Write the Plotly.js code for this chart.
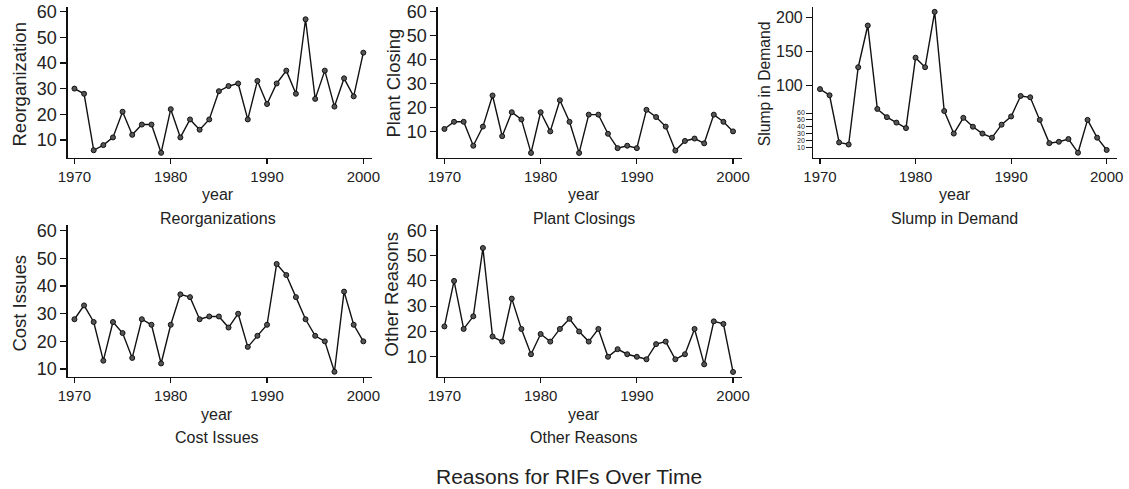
<!DOCTYPE html>
<html>
<head>
<meta charset="utf-8">
<script src="https://cdn.plot.ly/plotly-3.0.1.min.js"></script>
<style>html,body{margin:0;padding:0;background:#fff;}#chart{width:1129px;height:489px;}</style>
</head>
<body>
<div id="chart"></div>
<script>
// ---- data ----
const years = [1970,1971,1972,1973,1974,1975,1976,1977,1978,1979,1980,1981,1982,1983,1984,1985,1986,1987,1988,1989,1990,1991,1992,1993,1994,1995,1996,1997,1998,1999,2000];
const reorganization = [30,28,6,8,11,21,12,16,16,5,22,11,18,14,18,29,31,32,18,33,24,32,37,28,57,26,37,23,34,27,44];
const plantClosing = [11,14,14,4,12,25,8,18,15,1,18,10,23,14,1,17,17,9,3,4,3,19,16,12,2,6,7,5,17,14,10];
const slumpInDemand = [95,86,17,14,127,188,66,54,46,38,141,127,208,63,30,53,40,30,24,43,55,85,83,50,16,18,22,2,50,24,6];
const costIssues = [28,33,27,13,27,23,14,28,26,12,26,37,36,28,29,29,25,30,18,22,26,48,44,36,28,22,20,9,38,26,20];
const otherReasons = [22,40,21,26,53,18,16,33,21,11,19,16,21,25,20,16,21,10,13,11,10,9,15,16,9,11,21,7,24,23,4];

const xTicks = [1970,1980,1990,2000];
const yTicks = [10,20,30,40,50,60];
const slumpBigTicks = [100,150,200];
const slumpSmallTicks = [10,20,30,40,50,60];

const yTitles = ["Reorganization","Plant Closing","Slump in Demand","Cost Issues","Other Reasons"];
const subTitles = ["Reorganizations","Plant Closings","Slump in Demand","Cost Issues","Other Reasons"];
const xTitle = "year";
const mainTitle = "Reasons for RIFs Over Time";

// ---- layout geometry (pixels) ----
const W = 1129, H = 489;
const px = v => v / W;
const py = v => 1 - v / H;
const FONT = '"Liberation Sans", Arial, Helvetica, sans-serif';
const TXT = '#222';

const series = [reorganization, plantClosing, slumpInDemand, costIssues, otherReasons];
const panels = [
  {x0:67.7, x1:372,    y0:6.7, y1:157.7, xr:[1969.3,2000.9],  yr:[3.1,61.9],   ytx:19.3,  yty:84.2,  cx:217.5, ytf:18.5, tkf:18},
  {x0:437.7,x1:741.7,  y0:6.7, y1:157.7, xr:[1969.3,2000.9],  yr:[-1.0,62.1],  ytx:393.3, yty:83.3,  cx:583.5, ytf:18.5, tkf:18},
  {x0:813.3,x1:1116.7, y0:6.7, y1:157.7, xr:[1969.3,2001.05], yr:[-5.3,215.5], ytx:764,   yty:84.2,  cx:954.5, ytf:15.7, tkf:16},
  {x0:67.7, x1:372,    y0:225, y1:377,   xr:[1969.3,2000.9],  yr:[7.1,62.1],   ytx:19.3,  yty:303.3, cx:217,   ytf:18.5, tkf:18},
  {x0:437.7,x1:741.7,  y0:225, y1:377,   xr:[1969.3,2000.9],  yr:[2.0,62.1],   ytx:391.2, yty:294.2, cx:584,   ytf:18.5, tkf:18}
];

const traces = [];
const layout = {
  width: W, height: H,
  margin: {l:0, r:0, t:0, b:0},
  paper_bgcolor: '#fff', plot_bgcolor: '#fff',
  showlegend: false,
  font: {family: FONT, color: TXT},
  annotations: []
};

panels.forEach((p, i) => {
  const n = i + 1;
  const xa = n === 1 ? 'x' : 'x' + n;
  const ya = n === 1 ? 'y' : 'y' + n;
  traces.push({
    type: 'scatter', mode: 'lines+markers',
    x: years, y: series[i], xaxis: xa, yaxis: ya,
    line: {color: '#111', width: 1.4},
    marker: {size: 5, color: '#555', line: {color: '#111', width: 1}},
    hoverinfo: 'x+y'
  });
  const xKey = n === 1 ? 'xaxis' : 'xaxis' + n;
  const yKey = n === 1 ? 'yaxis' : 'yaxis' + n;
  layout[xKey] = {
    domain: [px(p.x0), px(p.x1)], anchor: ya, range: p.xr,
    tickvals: xTicks, ticks: 'outside', ticklen: 5, tickwidth: 1.2, tickcolor: '#111',
    showline: true, linecolor: '#111', linewidth: 1.4,
    showgrid: false, zeroline: false,
    tickfont: {family: FONT, size: 15, color: TXT}
  };
  layout[yKey] = {
    domain: [py(p.y1), py(p.y0)], anchor: xa, range: p.yr,
    tickvals: n === 3 ? slumpBigTicks : yTicks,
    ticks: 'outside', ticklen: 6, tickwidth: 1.2, tickcolor: '#111',
    showline: true, linecolor: '#111', linewidth: 1.4,
    showgrid: false, zeroline: false,
    tickfont: {family: FONT, size: p.tkf, color: TXT}
  };
  // y title
  layout.annotations.push({
    xref: 'paper', yref: 'paper', x: px(p.ytx), y: py(p.yty),
    xanchor: 'center', yanchor: 'middle', textangle: -90, showarrow: false,
    text: yTitles[i], font: {family: FONT, size: p.ytf, color: TXT}
  });
  // x title
  layout.annotations.push({
    xref: 'paper', yref: 'paper', x: px(p.cx), y: py(p.y1 + 37),
    xanchor: 'center', yanchor: 'middle', showarrow: false,
    text: xTitle, font: {family: FONT, size: 16, color: TXT}
  });
  // subtitle
  layout.annotations.push({
    xref: 'paper', yref: 'paper', x: px(p.cx), y: py(p.y1 + 60.5),
    xanchor: 'center', yanchor: 'middle', showarrow: false,
    text: subTitles[i], font: {family: FONT, size: 16, color: TXT}
  });
});

// small tick labels on the slump panel (same scale, tiny font)
layout.yaxis6 = {
  overlaying: 'y3', anchor: 'x3', side: 'left', range: panels[2].yr,
  domain: layout.yaxis3.domain,
  tickvals: slumpSmallTicks, ticks: 'outside', ticklen: 6, tickwidth: 1, tickcolor: '#111',
  showline: false, showgrid: false, zeroline: false,
  tickfont: {family: FONT, size: 7, color: TXT}
};
traces.push({type: 'scatter', mode: 'none', x: [years[0]], y: [slumpSmallTicks[0]], xaxis: 'x3', yaxis: 'y6', hoverinfo: 'skip', showlegend: false});

layout.annotations.push({
  xref: 'paper', yref: 'paper', x: px(569), y: py(476),
  xanchor: 'center', yanchor: 'middle', showarrow: false,
  text: mainTitle, font: {family: FONT, size: 21, color: TXT}
});

Plotly.newPlot('chart', traces, layout, {displayModeBar: false, staticPlot: true});
</script>
</body>
</html>
